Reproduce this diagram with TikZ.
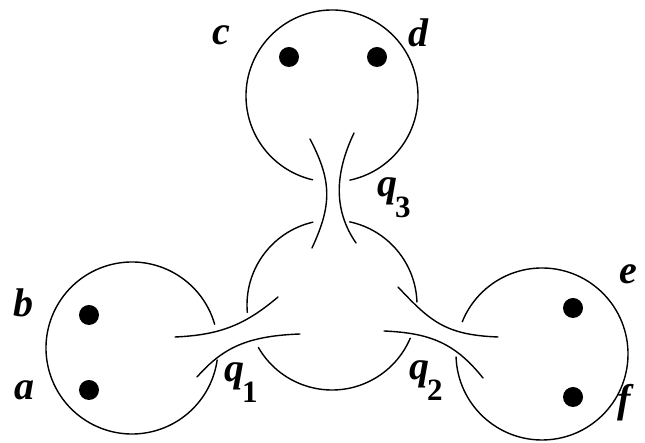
\documentclass[tikz,border=0pt]{standalone}
\usepackage{fontspec}
\setmainfont{Liberation Serif}
\begin{document}
\tikzset{
  ln/.style={line width=1.4pt, black, line cap=round},
  dot/.style={circle, fill=black, draw=none, inner sep=0pt, minimum size=20pt},
  lab/.style={font=\fontsize{40}{40}\selectfont\bfseries\itshape, inner sep=0pt, anchor=base west},
}
\newcommand{\subd}[1]{\kern-2pt\raisebox{-21pt}{\fontsize{31}{31}\selectfont\upshape #1}}
\begin{tikzpicture}[x=1pt,y=1pt]
\useasboundingbox (0,0) rectangle (645,443);
% circle centres
\coordinate (T) at (332,347);
\coordinate (M) at (332,138);
\coordinate (L) at (132,95);
\coordinate (R) at (542,89);
% top circle
\draw[ln] ([shift={(282:86)}]T) arc[start angle=282, end angle=617, radius=86];
% middle circle
\draw[ln] ([shift={(103:85)}]M) arc[start angle=103, end angle=185, radius=85];
\draw[ln] ([shift={(210:85)}]M) arc[start angle=210, end angle=337, radius=85];
\draw[ln] ([shift={(2:85)}]M) arc[start angle=2, end angle=78, radius=85];
% left circle
\draw[ln] ([shift={(16:86)}]L) arc[start angle=16, end angle=352, radius=86];
% right circle
\draw[ln] ([shift={(182:86)}]R) arc[start angle=182, end angle=518, radius=86];
% neck q3
\draw[ln] (310,304) .. controls (332,262) and (332,238) .. (312,195);
\draw[ln] (354,310) .. controls (334,268) and (334,232) .. (356,200);
% neck q1
\draw[ln] (175,106) .. controls (220,108) and (245,118) .. (278,146);
\draw[ln] (197,66) .. controls (222,94) and (245,107) .. (300,109);
% neck q2
\draw[ln] (398,156) .. controls (430,122) and (445,108) .. (498,106);
\draw[ln] (384,112) .. controls (430,110) and (455,100) .. (483,65);
% punctures
\node[dot] (pc) at (289,386) {};
\node[dot] (pd) at (377,386) {};
\node[dot] (pb) at (89,128) {};
\node[dot] (pa) at (89,53) {};
\node[dot] (pe) at (573,135) {};
\node[dot] (pf) at (573,46) {};
% labels
\node[lab] (lc) at (212,398) {c};
\node[lab] (ld) at (408,396) {d};
\node[lab] (lb) at (13,126) {b};
\node[lab] (la) at (14,43) {a};
\node[lab] (le) at (619,159) {e};
\node[lab] (lf) at (617,30) {f};
\node[lab] (lq3) at (377,246) {q\subd{3}};
\node[lab] (lq1) at (224,61) {q\subd{1}};
\node[lab] (lq2) at (409,63) {q\subd{2}};
\end{tikzpicture}
\end{document}
